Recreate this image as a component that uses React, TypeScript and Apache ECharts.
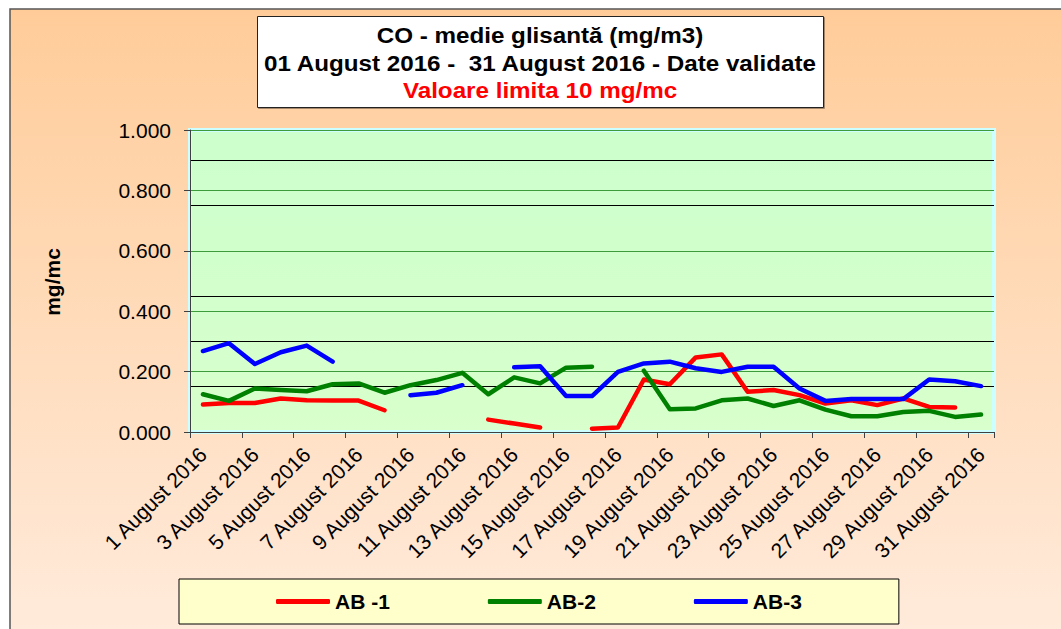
import React, { useEffect, useRef } from "react";
import * as echarts from "echarts";

const categories = [
  "1 August 2016", "2 August 2016", "3 August 2016", "4 August 2016", "5 August 2016",
  "6 August 2016", "7 August 2016", "8 August 2016", "9 August 2016", "10 August 2016",
  "11 August 2016", "12 August 2016", "13 August 2016", "14 August 2016", "15 August 2016",
  "16 August 2016", "17 August 2016", "18 August 2016", "19 August 2016", "20 August 2016",
  "21 August 2016", "22 August 2016", "23 August 2016", "24 August 2016", "25 August 2016",
  "26 August 2016", "27 August 2016", "28 August 2016", "29 August 2016", "30 August 2016",
  "31 August 2016",
];

const ab1 = [
  0.091, 0.096, 0.096, 0.111, 0.105, 0.104, 0.104, 0.072, null, null,
  null, 0.041, 0.028, 0.015, null, 0.011, 0.015, 0.174, 0.158, 0.247,
  0.257, 0.133, 0.139, 0.122, 0.094, 0.105, 0.089, 0.111, 0.083, 0.081,
  null,
];

const ab2 = [
  0.125, 0.103, 0.144, 0.139, 0.135, 0.158, 0.161, 0.130, 0.155, 0.172,
  0.196, 0.125, 0.181, 0.161, 0.213, 0.216, null, 0.203, 0.075, 0.078,
  0.105, 0.111, 0.086, 0.105, 0.074, 0.052, 0.052, 0.066, 0.070, 0.050,
  0.058,
];

const ab3 = [
  0.268, 0.294, 0.225, 0.264, 0.286, 0.233, null, null, 0.122, 0.130,
  0.155, null, 0.214, 0.218, 0.119, 0.119, 0.199, 0.227, 0.233, 0.211,
  0.199, 0.216, 0.216, 0.144, 0.103, 0.109, 0.109, 0.109, 0.174, 0.168,
  0.152,
];

const seriesNames = ["AB -1", "AB-2", "AB-3"];
const seriesColors = ["#FF0000", "#008000", "#0000FF"];
const titleLines = [
  "CO - medie glisantă (mg/m3)",
  "01 August 2016 -  31 August 2016 - Date validate",
  "Valoare limita 10 mg/mc",
];
const yAxisName = "mg/mc";

const FONT = "'Liberation Sans', Arial, sans-serif";

export default function App() {
  const ref = useRef<HTMLDivElement>(null);

  useEffect(() => {
    if (!ref.current) return;
    const chart = echarts.init(ref.current, null, { renderer: "svg" });
    const data = [ab1, ab2, ab3];
    const titleY = [35, 63, 90];
    const titleColors = ["#000000", "#000000", "#FF0000"];

    const option: any = {
      animation: false,
      backgroundColor: "transparent",
      textStyle: { fontFamily: FONT },
      graphic: [
        {
          type: "rect",
          z: -10,
          silent: true,
          shape: { x: 10, y: 9, width: 1060, height: 630 },
          style: {
            fill: new echarts.graphic.LinearGradient(0, 0, 0, 1, [
              { offset: 0, color: "#FFCC99" },
              { offset: 1, color: "#FFEBDC" },
            ]),
            stroke: "#555555",
            lineWidth: 1.5,
          },
        },
        {
          type: "rect",
          silent: true,
          shape: { x: 257.5, y: 16.5, width: 566, height: 91 },
          style: {
            fill: "#FFFFFF",
            stroke: "#222222",
            lineWidth: 1,
            shadowColor: "rgba(0,0,0,0.35)",
            shadowOffsetX: 1,
            shadowOffsetY: 1,
            shadowBlur: 1,
          },
        },
        ...titleLines.map((t, i) => ({
          type: "text",
          x: 540,
          y: titleY[i],
          scaleX: 1.1,
          silent: true,
          style: {
            text: t,
            fill: titleColors[i],
            font: `bold 22px ${FONT}`,
            textAlign: "center",
            textVerticalAlign: "middle",
          },
        })),
        {
          type: "text",
          x: 52,
          y: 282,
          rotation: Math.PI / 2,
          silent: true,
          style: {
            text: yAxisName,
            fill: "#000",
            font: `bold 21px ${FONT}`,
            textAlign: "center",
            textVerticalAlign: "middle",
          },
        },
      ],
      grid: {
        left: 190,
        top: 130,
        right: 67,
        bottom: 197,
        show: true,
        backgroundColor: new echarts.graphic.LinearGradient(0, 0, 0, 1, [
          { offset: 0, color: "#CCFFCC" },
          { offset: 1, color: "#D8FFCC" },
        ]),
        borderColor: "#CCFFFF",
        borderWidth: 4,
      },
      legend: {
        left: 179,
        top: 579,
        orient: "horizontal",
        padding: [12, 97, 12, 97],
        itemGap: 98,
        itemWidth: 54,
        itemHeight: 5,
        icon: "roundRect",
        backgroundColor: "#FFFFCC",
        borderColor: "#000000",
        borderWidth: 1,
        textStyle: { fontFamily: FONT, fontSize: 21, fontWeight: "bold", color: "#000" },
        data: seriesNames,
      },
      xAxis: {
        type: "category",
        data: categories,
        boundaryGap: true,
        axisLine: { show: true, lineStyle: { color: "#404040", width: 1 } },
        axisTick: { show: true, interval: 1, length: 6, lineStyle: { color: "#404040" } },
        axisLabel: {
          interval: 1,
          rotate: 45,
          margin: 19,
          fontFamily: FONT,
          fontSize: 21,
          color: "#000",
        },
        splitLine: { show: false },
      },
      yAxis: [
        {
          type: "value",
          min: 0,
          max: 1,
          interval: 0.15,
          position: "left",
          axisLine: { show: false },
          axisTick: { show: false },
          axisLabel: { show: false },
          splitLine: { show: true, lineStyle: { color: "#000000", width: 1 } },
        },
        {
          type: "value",
          min: 0,
          max: 1,
          interval: 0.2,
          position: "left",
          axisLine: { show: true, lineStyle: { color: "#404040", width: 1 } },
          axisTick: { show: true, length: 6, lineStyle: { color: "#404040" } },
          axisLabel: {
            margin: 19,
            fontFamily: FONT,
            fontSize: 21,
            color: "#000",
            formatter: (v: number) => v.toFixed(3),
          },
          splitLine: { show: true, lineStyle: { color: "#3C9C3C", width: 1 } },
        },
      ],
      series: seriesNames.map((name, i) => ({
        name,
        type: "line",
        yAxisIndex: 1,
        data: data[i],
        symbol: "none",
        showSymbol: false,
        connectNulls: false,
        color: seriesColors[i],
        lineStyle: { color: seriesColors[i], width: 4.5, cap: "round", join: "round" },
        itemStyle: { color: seriesColors[i] },
      })),
    };

    chart.setOption(option);
    return () => chart.dispose();
  }, []);

  return (
    <div
      ref={ref}
      style={{ position: "fixed", left: 0, top: 0, width: 1061, height: 629, background: "#FFFFFF" }}
    />
  );
}
